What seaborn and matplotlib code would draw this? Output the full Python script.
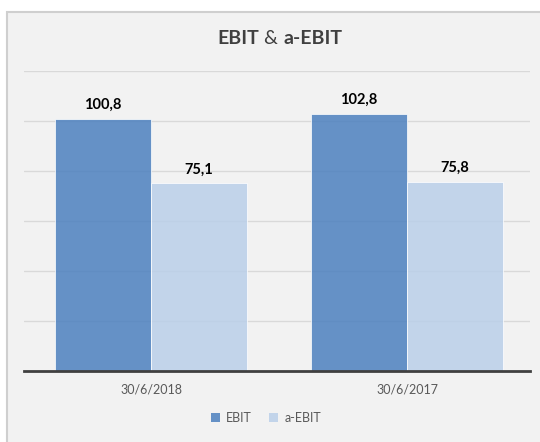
import matplotlib
matplotlib.use("Agg")
import matplotlib.pyplot as plt
import seaborn as sns
import pandas as pd
from matplotlib.patches import Rectangle, Patch

categories = ["30/6/2018", "30/6/2017"]
series_names = ["EBIT", "a-EBIT"]
ebit = [100.8, 102.8]
a_ebit = [75.1, 75.8]
value_labels_ebit = ["100,8", "102,8"]
value_labels_aebit = ["75,1", "75,8"]

df = pd.DataFrame({
    "date": categories * 2,
    "series": [series_names[0]] * 2 + [series_names[1]] * 2,
    "value": ebit + a_ebit,
    "label": value_labels_ebit + value_labels_aebit,
})

sns.set_theme(style="white")
plt.rcParams["font.family"] = ["Lato", "DejaVu Sans"]

BG = "#F2F2F2"
fig = plt.figure(figsize=(5.4, 4.42), dpi=100, facecolor="white")
fig.patches.append(Rectangle((7/540, -0.01), 1.02, 1 - 12/442 + 0.01, transform=fig.transFigure,
                             facecolor=BG, edgecolor="#CFCFCF", linewidth=1.5, zorder=-5))
ax = fig.add_axes([24/540, 1 - 371/442, 506/540, 300/442])
ax.set_zorder(2)
ax.set_facecolor("none")

palette = {"EBIT": "#4C80BF", "a-EBIT": "#BACFE9"}
sns.barplot(data=df, x="date", y="value", hue="series", order=categories, hue_order=series_names,
            palette=palette, saturation=1, width=0.75, alpha=0.85, edgecolor="white", linewidth=0.6,
            ax=ax, legend=False, zorder=2)

ax.set_xlim(-0.496, 1.480)
ax.set_ylim(0, 120)
ax.set_yticks([20, 40, 60, 80, 100, 120])
ax.yaxis.grid(True, color="#D9D9D9", linewidth=1)
ax.set_axisbelow(True)
ax.tick_params(axis="y", left=False, labelleft=False)
ax.tick_params(axis="x", bottom=False, labelsize=9, colors="#595959", pad=3)
for s in ["top", "right", "left"]:
    ax.spines[s].set_visible(False)
ax.spines["bottom"].set_color("#404040")
ax.spines["bottom"].set_linewidth(2)
ax.set_xlabel("")
ax.set_ylabel("")

for container, labels in zip(ax.containers, [value_labels_ebit, value_labels_aebit]):
    ax.bar_label(container, labels=labels, padding=5, fontsize=10.5, fontweight="bold", color="black")

# title with mixed weights
fig.canvas.draw()
renderer = fig.canvas.get_renderer()
parts = [("EBIT", "bold"), (" & ", "normal"), ("a-EBIT", "bold")]
texts = []
widths = []
for s, w in parts:
    t = fig.text(0, 0, s, fontsize=14, fontweight=w, color="#404040", va="center")
    widths.append(t.get_window_extent(renderer).width)
    texts.append(t)
total = sum(widths)
x = 280 - total / 2
for t, w in zip(texts, widths):
    t.set_position((x / 540, 1 - 39 / 442))
    x += w

handles = [Patch(facecolor=palette[n], alpha=0.85, edgecolor="none") for n in series_names]
leg = fig.legend(handles, series_names, loc="center", bbox_to_anchor=(266/540, 1 - 418/442), ncol=2,
                 frameon=False, fontsize=9, handlelength=0.7, handleheight=0.7, handletextpad=0.5,
                 columnspacing=1.4)
for t in leg.get_texts():
    t.set_color("#595959")

fig.savefig("out.png", dpi=100, facecolor="white")
